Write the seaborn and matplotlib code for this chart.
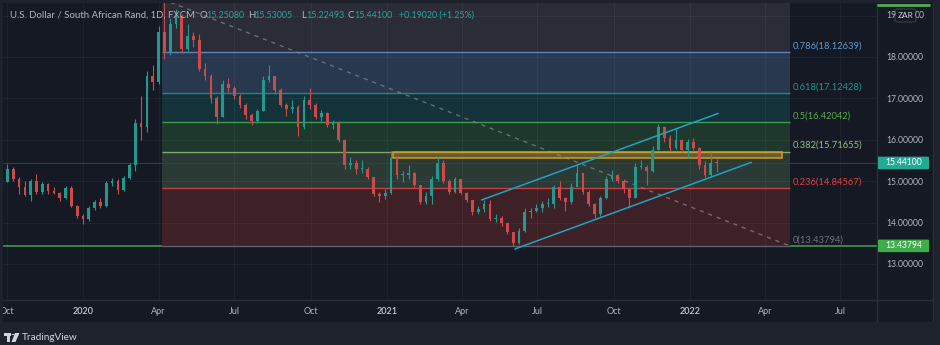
import numpy as np
import pandas as pd
import matplotlib
matplotlib.use("Agg")
import matplotlib.pyplot as plt
import matplotlib.dates as mdates
import matplotlib.patches as mpatches
import matplotlib.lines as mlines
from matplotlib.colors import to_rgba
import seaborn as sns

# ---------------- data ----------------
# Weekly USD/ZAR candles, one per week ending on Friday
first_week = "2019-09-27"
first_open = 15.05
closes = [14.98, 15.30, 15.05, 14.85, 14.66, 15.00, 14.75, 14.93, 14.76, 14.72,
          14.60, 14.84, 14.40, 14.17, 14.08, 14.35, 14.50, 14.40, 14.95, 15.00,
          14.78, 15.08, 15.40, 16.40, 16.30, 17.55, 17.40, 18.60, 18.10, 18.80,
          19.00, 18.20, 18.50, 18.40, 17.70, 17.55, 17.00, 16.55, 17.35, 17.25,
          17.05, 16.85, 16.60, 16.45, 16.70, 17.45, 17.55, 17.20, 16.85, 16.75,
          16.80, 16.30, 16.95, 16.85, 16.55, 16.65, 16.35, 16.42, 16.00, 15.40,
          15.45, 15.30, 15.30, 15.10, 14.70, 14.65, 14.72, 15.55, 15.15, 15.15,
          15.20, 14.90, 14.50, 14.65, 15.05, 15.45, 15.00, 14.75, 15.05, 14.72,
          14.55, 14.25, 14.32, 14.45, 14.08, 14.12, 13.98, 13.78, 13.50, 13.80,
          14.25, 14.28, 14.35, 14.45, 14.45, 14.85, 14.60, 14.50, 14.85, 15.20,
          14.75, 14.45, 14.20, 14.60, 15.05, 15.15, 15.00, 14.80, 14.60, 15.35,
          15.35, 15.25, 15.75, 16.30, 16.05, 15.80, 16.00, 15.75, 15.95, 15.80,
          15.40, 15.15, 15.45, 15.441]
highs = [15.10, 15.42, 15.35, 15.10, 15.00, 15.05, 15.18, 14.98, 14.95, 14.85,
         14.75, 14.88, 14.88, 14.42, 14.20, 14.40, 14.55, 14.60, 15.00, 15.08,
         15.05, 15.12, 15.45, 16.50, 17.05, 17.65, 17.80, 18.75, 19.38, 18.95,
         19.15, 19.05, 18.80, 18.60, 18.55, 17.85, 17.60, 17.05, 17.45, 17.50,
         17.30, 17.10, 16.90, 16.65, 16.75, 17.55, 17.80, 17.55, 17.25, 16.90,
         16.95, 16.85, 17.05, 17.25, 16.90, 16.72, 16.68, 16.48, 16.45, 16.02,
         15.58, 15.50, 15.50, 15.35, 15.10, 14.75, 14.80, 15.72, 15.60, 15.25,
         15.40, 15.22, 14.92, 14.75, 15.12, 15.58, 15.50, 15.05, 15.10, 15.05,
         14.75, 14.55, 14.40, 14.55, 14.55, 14.20, 14.15, 14.00, 13.78, 13.88,
         14.35, 14.35, 14.45, 14.52, 14.60, 14.92, 15.00, 14.62, 14.95, 15.38,
         15.20, 14.78, 14.48, 14.65, 15.12, 15.28, 15.18, 15.05, 14.82, 15.45,
         15.50, 15.38, 15.85, 16.37, 16.33, 16.12, 16.28, 16.02, 16.02, 16.05,
         15.82, 15.48, 15.70, 15.53]
lows = [14.90, 14.98, 15.00, 14.70, 14.65, 14.52, 14.68, 14.70, 14.70, 14.68,
        14.52, 14.58, 14.38, 14.12, 13.97, 14.05, 14.30, 14.35, 14.38, 14.88,
        14.70, 14.76, 15.05, 15.25, 16.00, 16.20, 17.20, 17.35, 17.95, 18.05,
        18.70, 18.10, 18.15, 18.25, 17.65, 17.45, 16.90, 16.38, 16.55, 17.15,
        16.98, 16.78, 16.50, 16.35, 16.40, 16.70, 17.40, 17.10, 16.80, 16.58,
        16.65, 16.10, 16.25, 16.75, 16.50, 16.45, 16.30, 16.25, 15.95, 15.30,
        15.30, 15.18, 15.20, 15.05, 14.65, 14.50, 14.58, 14.70, 15.05, 14.98,
        15.05, 14.85, 14.45, 14.45, 14.45, 15.00, 14.95, 14.68, 14.72, 14.68,
        14.50, 14.18, 14.20, 14.25, 14.05, 14.02, 13.92, 13.72, 13.438, 13.48,
        13.78, 14.12, 14.25, 14.25, 14.38, 14.35, 14.55, 14.28, 14.45, 14.85,
        14.70, 14.40, 14.10, 14.15, 14.58, 15.00, 14.95, 14.72, 14.35, 14.60,
        15.30, 14.90, 15.22, 15.75, 15.95, 15.72, 15.78, 15.70, 15.55, 15.75,
        15.30, 15.10, 15.12, 15.22]

# Fibonacci retracement anchors
fib_start, fib_end = "2020-04-05", "2022-05-01"
fib_top, fib_bottom = 19.402893, 13.43794
fib_ratios = [0, 0.236, 0.382, 0.5, 0.618, 0.786, 1.0]
fib_names = ["0", "0.236", "0.382", "0.5", "0.618", "0.786", "1"]

# Resistance zone
zone_start, zone_end = "2021-01-08", "2022-04-22"
zone_low, zone_high = 15.553, 15.7166

# Rising channel (two parallel lines)
chan_lower = (["2021-06-04", "2022-03-16"], [13.362, 15.457])
chan_upper = (["2021-04-25", "2022-02-04"], [14.546, 16.638])

last_price = 15.441
tag_price = 13.43794

# header values
ohlc = {"O": "15.25080", "H": "15.53005", "L": "15.22493", "C": "15.44100"}
change_text = "+0.19020 (+1.25%)"
title = "U.S. Dollar / South African Rand, 1D, FXCM"
currency = "ZAR"

tick_dates = ["2019-10-01", "2020-01-01", "2020-04-01", "2020-07-01", "2020-10-01",
              "2021-01-01", "2021-04-01", "2021-07-01", "2021-10-01", "2022-01-01",
              "2022-04-01", "2022-07-01"]
tick_names = ["Oct", "2020", "Apr", "Jul", "Oct", "2021", "Apr", "Jul", "Oct",
              "2022", "Apr", "Jul"]
price_ticks = [13, 14, 15, 16, 17, 18]
top_tick = 19

# ---------------- style ----------------
PAGE = "#1e222d"
PANE = "#151924"
TXT = "#b2b5be"
UP, DOWN = "#22998c", "#cc4a49"
band_colors = ["#3d2127", "#2c3a36", "#1f382d", "#14323a", "#27384f", "#2a2d38"]
level_colors = ["#5d606b", "#c6403f", "#7fa86a", "#3f9c4a", "#1b8b89", "#5686c2", "#787b86"]
label_colors = ["#70737d", "#e0413f", "#8fc27e", "#5aac4a", "#1a9a88", "#5b9bd5", "#787b86"]

sns.set_theme(style="dark", rc={"axes.facecolor": PANE, "figure.facecolor": PAGE})
plt.rcParams["font.family"] = ["Lato", "DejaVu Sans"]

W, H = 940, 345
fig = plt.figure(figsize=(W / 100, H / 100), dpi=100)
fig.patch.set_facecolor(PAGE)
renderer = fig.canvas.get_renderer()


def fx(px):
    return px / W


def fy(py):
    return 1 - py / H


def fit_size(text, width_px, **kw):
    """Font size at which `text` is `width_px` pixels wide."""
    t = fig.text(0, 0, text, fontsize=10, **kw)
    w = t.get_window_extent(renderer).width
    t.remove()
    return 10 * width_px / w


HEAD_FS = fit_size(title, 184)
VAL_FS = fit_size("15.25080", 38)
AX_FS = fit_size("18.00000", 37)
FIB_FS = fit_size("0.786(18.12639)", 69)
TIME_FS = fit_size("2020", 21)

# chart frame (pane + price scale + time scale)
fig.add_artist(mpatches.Rectangle((fx(3), fy(322)), (933 - 3) / W, (322 - 3) / H,
                                  transform=fig.transFigure, fc=PANE, ec="none", zorder=-1))

ax = fig.add_axes([fx(3), fy(300), (877 - 3) / W, (300 - 3) / H])
ax.set_facecolor(PANE)
d0 = mdates.date2num(pd.Timestamp("2020-01-01"))
ax.set_xlim(d0 - 96.34, d0 + 956.17)
ax.set_ylim(12.1304, 19.3043)
for s in ax.spines.values():
    s.set_visible(False)


def num(s):
    return mdates.date2num(pd.Timestamp(s))


# ---------------- fibonacci bands ----------------
fs, fe = num(fib_start), num(fib_end)
rng = fib_top - fib_bottom
levels = [fib_bottom + r * rng for r in fib_ratios]
ax.axhline(tag_price, color="#3f8e46", lw=1.3, zorder=0.8)
for i in range(len(levels) - 1):
    ax.add_patch(mpatches.Rectangle((fs, levels[i]), fe - fs, levels[i + 1] - levels[i],
                                    fc=band_colors[i], ec="none", zorder=1))
for i, (lv, name) in enumerate(zip(levels, fib_names)):
    ax.hlines(lv, fs, fe, color=level_colors[i], lw=1.0, zorder=1.2)
    if fib_ratios[i] < 1:
        ax.annotate(f"{name}({lv:.5f})", xy=(fe, lv), xytext=(3, 1.5),
                    textcoords="offset pixels", ha="left", va="bottom",
                    fontsize=FIB_FS, color=label_colors[i], annotation_clip=False)

# grid above the bands
ax.set_axisbelow("line")
ax.set_xticks([num(t) for t in tick_dates])
ax.set_yticks(price_ticks + [top_tick])
ax.grid(True, color="white", alpha=0.045, lw=0.8)

# diagonal of the retracement
ax.plot([fs, fe], [fib_top, fib_bottom], color="#80838d", lw=1.0,
        ls=(0, (3, 3.5)), alpha=0.75, zorder=2)

# last price line
ax.axhline(last_price, color="#33404c", lw=0.7, zorder=1.5)

# resistance zone
zs, ze = num(zone_start), num(zone_end)
ax.add_patch(mpatches.Rectangle((zs, zone_low), ze - zs, zone_high - zone_low,
                                fc=to_rgba("#d4a62a", 0.33), ec="#d99a22", lw=1.1, zorder=2))

# ---------------- candles ----------------
dates = pd.date_range(first_week, periods=len(closes), freq="7D")
x = mdates.date2num(dates) - 2.0
c = np.array(closes)
o = np.concatenate([[first_open], c[:-1]])
hi, lo = np.array(highs), np.array(lows)
cols = np.where(c >= o, UP, DOWN)
ax.vlines(x, lo, hi, colors=cols, lw=0.8, zorder=3)
ax.bar(x, np.maximum(np.abs(c - o), 0.025), bottom=np.minimum(o, c), width=3.3,
       color=cols, linewidth=0, zorder=3.1)

# ---------------- channel ----------------
chan = pd.DataFrame({
    "t": [num(d) for d in chan_lower[0]] + [num(d) for d in chan_upper[0]],
    "p": chan_lower[1] + chan_upper[1],
    "line": ["lower", "lower", "upper", "upper"],
})
sns.lineplot(data=chan, x="t", y="p", units="line", estimator=None, color="#1fa3c4",
             lw=1.1, ax=ax, zorder=4, legend=False)
ax.set_xlabel("")
ax.set_ylabel("")

# ---------------- axes labels ----------------
ax.set_xticklabels(tick_names)
ax.tick_params(axis="x", length=0, pad=5, labelsize=TIME_FS, colors=TXT)
for lab, name in zip(ax.get_xticklabels(), tick_names):
    if name.isdigit():
        lab.set_color("#c8cbd3")
        lab.set_fontweight("semibold")
ax.yaxis.tick_right()
ax.set_yticklabels([f"{v:.5f}" for v in price_ticks] + [""])
ax.tick_params(axis="y", length=0, pad=6.5, labelsize=AX_FS, colors=TXT,
               right=False, left=False, labelright=True, labelleft=False)


def y_px(v):
    return H - ax.transData.transform((0, v))[1]


def price_tag(v, text, color):
    yc = y_px(v)
    fig.add_artist(mpatches.FancyBboxPatch((fx(878), fy(yc + 6.3)), 51 / W, 12.6 / H,
                                           boxstyle="round,pad=0,rounding_size=0.002",
                                           transform=fig.transFigure, fc=color, ec="none", zorder=3))
    fig.text(fx(903.5), fy(yc), text, ha="center", va="center", fontsize=AX_FS,
             color="white", zorder=4)


price_tag(last_price, f"{last_price:.5f}", "#22ab94")
price_tag(tag_price, f"{tag_price:.5f}", "#3fae49")

# top price label, partly hidden behind the currency badge
y19 = y_px(top_tick)
top_txt = f"{top_tick:.5f}"
fig.text(fx(886), fy(y19), top_txt[:2], ha="left", va="center", fontsize=AX_FS, color=TXT, zorder=4)
fig.text(fx(925), fy(y19), top_txt[-2:], ha="right", va="center", fontsize=AX_FS, color=TXT, zorder=4)
fig.add_artist(mpatches.FancyBboxPatch((fx(895), fy(22)), 21 / W, 13 / H,
                                       boxstyle="round,pad=0,rounding_size=0.004",
                                       transform=fig.transFigure, fc=PANE, ec="#3a3e4a",
                                       lw=0.8, zorder=3))
fig.text(fx(905.5), fy(15.5), currency, ha="center", va="center", fontsize=AX_FS * 0.95,
         color="#d1d4dc", zorder=4)
fig.add_artist(mlines.Line2D([fx(878), fx(929)], [fy(4.5), fy(4.5)], color="#4caf50",
                             lw=2, transform=fig.transFigure, zorder=3))

# separators
sep = "#2a2e39"
fig.add_artist(mlines.Line2D([fx(877), fx(877)], [fy(3), fy(322)], color=sep, lw=1,
                             transform=fig.transFigure, zorder=2))
fig.add_artist(mlines.Line2D([fx(3), fx(933)], [fy(300), fy(300)], color=sep, lw=1,
                             transform=fig.transFigure, zorder=2))
fig.add_artist(mlines.Line2D([fx(933), fx(933)], [fy(3), fy(322)], color=sep, lw=1,
                             transform=fig.transFigure, zorder=2))

# page margins drawn over the frame edges
for (x0, y0, x1, y1) in [(0, 0, 3, 345), (933.5, 0, 940, 345), (0, 322, 940, 345), (0, 0, 940, 3)]:
    fig.add_artist(mpatches.Rectangle((fx(x0), fy(y1)), (x1 - x0) / W, (y1 - y0) / H,
                                      transform=fig.transFigure, fc=PAGE, ec="none", zorder=2.5))

# ---------------- header ----------------
fig.text(fx(10), fy(15), title, ha="left", va="center", fontsize=HEAD_FS, color=TXT, zorder=5)
head_pos = [("O", 200, 206), ("H", 248, 254), ("L", 301, 306), ("C", 348, 354)]
for key, xk, xv in head_pos:
    fig.text(fx(xk), fy(15), key, ha="left", va="center", fontsize=HEAD_FS, color=TXT, zorder=5)
    fig.text(fx(xv), fy(15), ohlc[key], ha="left", va="center", fontsize=VAL_FS,
             color="#26a69a", zorder=5)
fig.text(fx(399), fy(15), change_text, ha="left", va="center", fontsize=VAL_FS,
         color="#26a69a", zorder=5)

# ---------------- footer logo ----------------
logo = "#d1d4dc"
fig.add_artist(mpatches.Rectangle((fx(4), fy(336)), 7 / W, 3 / H, transform=fig.transFigure,
                                  fc=logo, ec="none", zorder=3))
fig.add_artist(mpatches.Rectangle((fx(7.5), fy(342)), 3 / W, 9 / H, transform=fig.transFigure,
                                  fc=logo, ec="none", zorder=3))
fig.add_artist(mpatches.Circle((fx(13), fy(334.5)), 1.5 / W, transform=fig.transFigure,
                               fc=logo, ec="none", zorder=3))
fig.add_artist(mpatches.Polygon([(fx(15), fy(333)), (fx(19.5), fy(333)), (fx(15.5), fy(342)),
                                 (fx(11.5), fy(342))], closed=True, transform=fig.transFigure,
                                fc=logo, ec="none", zorder=3))
fig.text(fx(22), fy(337.5), "TradingView", ha="left", va="center",
         fontsize=fit_size("TradingView", 56), color=logo, zorder=4)

fig.savefig("out.png", dpi=100, facecolor=PAGE)
